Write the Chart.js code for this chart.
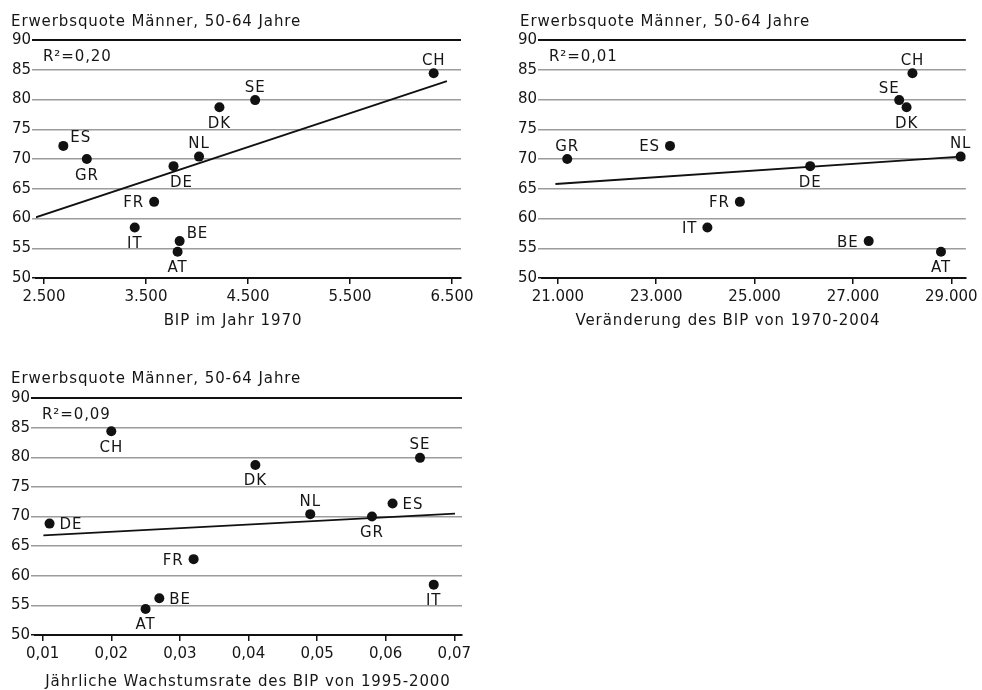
<!DOCTYPE html>
<html lang="de">
<head>
<meta charset="utf-8">
<title>Erwerbsquote Männer, 50-64 Jahre</title>
<script src="https://cdn.jsdelivr.net/npm/chart.js@4.4.1/dist/chart.umd.min.js"></script>
<style>
  html, body { margin: 0; padding: 0; background: #fff; }
  #wrap { position: relative; width: 982px; height: 690px; }
  canvas { position: absolute; }
</style>
</head>
<body>
<div id="wrap">
  <canvas id="c1" width="490" height="330" style="left:0;top:0"></canvas>
  <canvas id="c2" width="482" height="330" style="left:500px;top:0"></canvas>
  <canvas id="c3" width="490" height="350" style="left:0;top:340px"></canvas>
</div>
<script>
// Daten
const laender = ['CH', 'SE', 'DK', 'ES', 'GR', 'NL', 'DE', 'FR', 'IT', 'BE', 'AT'];
const erwerbsquote = [84.4, 79.9, 78.7, 72.2, 70.0, 70.4, 68.8, 62.8, 58.5, 56.2, 54.4];

const bip1970 = [6320, 4570, 4220, 2690, 2920, 4020, 3770, 3580, 3390, 3830, 3810];
const bipVeraenderung = [28210, 27940, 28090, 23280, 21190, 29190, 26130, 24700, 24040, 27320, 28790];
const bipWachstum = [0.020, 0.065, 0.041, 0.061, 0.058, 0.049, 0.011, 0.032, 0.067, 0.027, 0.025];

// Regressionsgeraden: Endpunkte
const trend1X = [2420, 6450], trend1Y = [60.2, 83.1];
const trend2X = [20950, 29190], trend2Y = [65.8, 70.4];
const trend3X = [0.0101, 0.0701], trend3Y = [66.8, 70.5];

// Achsen
const xBereich1 = [2422, 6588];
const xBereich2 = [20677, 29296];
const xBereich3 = [0.00888, 0.07112];
const xTicks1 = [2500, 3500, 4500, 5500, 6500];
const xTicks2 = [21000, 23000, 25000, 27000, 29000];
const xTicks3 = [0.01, 0.02, 0.03, 0.04, 0.05, 0.06, 0.07];
const yTicks = [50, 55, 60, 65, 70, 75, 80, 85, 90];

const rQuadrat = ['0,20', '0,01', '0,09'];
const yTitel = 'Erwerbsquote Männer, 50-64 Jahre';
const xTitel = ['BIP im Jahr 1970', 'Veränderung des BIP von 1970-2004', 'Jährliche Wachstumsrate des BIP von 1995-2000'];

// Darstellung
const SCHRIFT = "'DejaVu Sans', sans-serif";
const TEXTFARBE = '#161616';
const SCHWARZ = '#111';

// Lage der Länderkürzel relativ zum Punkt: [dx, dy, align]
const LAGE = {
    n:  [0, -14, 'center'],
    s:  [0, 15, 'center'],
    e:  [10, 0, 'left'],
    w:  [-10, 0, 'right'],
    ne: [7, -9, 'left'],
    se: [8, 15, 'center'],
    nw: [-10, -13, 'center']
};
const lage1 = ['n', 'n', 's', 'ne', 's', 'n', 'se', 'w', 's', 'ne', 's'];
const lage2 = ['n', 'nw', 's', 'w', 'n', 'n', 's', 'w', 'w', 'w', 's'];
const lage3 = ['s', 'n', 's', 'e', 's', 'n', 'e', 'w', 's', 'e', 's'];

function schreibe(ctx, txt, x, y, align) {
    ctx.save();
    ctx.font = '15px ' + SCHRIFT;
    ctx.letterSpacing = '0.9px';
    ctx.fillStyle = TEXTFARBE;
    ctx.textAlign = align || 'left';
    ctx.textBaseline = 'alphabetic';
    ctx.fillText(txt, x, y + 5.5); // y = Mitte der Großbuchstaben
    ctx.restore();
}

function beschriftung(nr, lage, lay) {
    return {
        id: 'beschriftung' + nr,
        afterDraw(chart) {
            const ctx = chart.ctx;
            const area = chart.chartArea;
            const meta = chart.getDatasetMeta(0);

            schreibe(ctx, yTitel, lay.titel[0], lay.titel[1]);
            schreibe(ctx, 'R²=' + rQuadrat[nr], area.left + 7, area.top + 15);
            schreibe(ctx, xTitel[nr], lay.xTitel[0], lay.xTitel[1], 'center');

            meta.data.forEach((pt, i) => {
                const o = LAGE[lage[i]];
                schreibe(ctx, laender[i], pt.x + o[0], pt.y + o[1], o[2]);
            });
        }
    };
}

function zeichne(id, nr, xWerte, trendX, trendY, xBereich, xTicks, format, lage, lay) {
    const tickFont = { family: SCHRIFT, size: 15 };
    return new Chart(document.getElementById(id), {
        type: 'scatter',
        data: {
            datasets: [{
                data: xWerte.map((x, i) => ({ x: x, y: erwerbsquote[i] })),
                backgroundColor: SCHWARZ,
                borderWidth: 0,
                pointRadius: 5,
                pointHoverRadius: 5
            }, {
                data: trendX.map((x, i) => ({ x: x, y: trendY[i] })),
                showLine: true,
                borderColor: SCHWARZ,
                borderWidth: 1.8,
                pointRadius: 0,
                fill: false
            }]
        },
        options: {
            responsive: false,
            animation: false,
            devicePixelRatio: 1,
            events: [],
            layout: { padding: lay.padding },
            plugins: { legend: { display: false }, tooltip: { enabled: false } },
            scales: {
                x: {
                    type: 'linear',
                    min: xBereich[0],
                    max: xBereich[1],
                    afterBuildTicks: s => { s.ticks = xTicks.map(v => ({ value: v })); },
                    afterFit: s => { s.height = lay.xHoehe; },
                    ticks: { font: tickFont, color: TEXTFARBE, padding: 4, maxRotation: 0, autoSkip: false, callback: format },
                    grid: { drawOnChartArea: false, drawTicks: true, tickLength: 6, color: SCHWARZ, lineWidth: 1.5 },
                    border: { display: true, color: SCHWARZ, width: 2 }
                },
                y: {
                    min: 50,
                    max: 90,
                    afterBuildTicks: s => { s.ticks = yTicks.map(v => ({ value: v })); },
                    afterFit: s => { s.width = lay.yBreite; },
                    ticks: { font: tickFont, color: TEXTFARBE, padding: 1 },
                    grid: {
                        color: c => (c.tick && (c.tick.value === 90 || c.tick.value === 50)) ? SCHWARZ : '#9c9c9c',
                        lineWidth: c => (c.tick && c.tick.value === 90) ? 2 : 1.5,
                        tickLength: 4
                    },
                    border: { display: false }
                }
            }
        },
        plugins: [beschriftung(nr, lage, lay)]
    });
}

const deZahl = v => v.toLocaleString('de-DE');
const deDezimal = v => v.toFixed(2).replace('.', ',');

zeichne('c1', 0, bip1970, trend1X, trend1Y, xBereich1, xTicks1, deZahl, lage1, {
    padding: { left: 0, top: 40, right: 29, bottom: 0 }, yBreite: 36, xHoehe: 52,
    titel: [11, 20], xTitel: [233, 319]
});
zeichne('c2', 1, bipVeraenderung, trend2X, trend2Y, xBereich2, xTicks2, deZahl, lage2, {
    padding: { left: 6, top: 40, right: 13, bottom: 0 }, yBreite: 36, xHoehe: 52,
    titel: [20, 20], xTitel: [228, 319]
});
zeichne('c3', 2, bipWachstum, trend3X, trend3Y, xBereich3, xTicks3, deDezimal, lage3, {
    padding: { left: 0, top: 58, right: 28, bottom: 0 }, yBreite: 35, xHoehe: 55,
    titel: [11, 37], xTitel: [248, 340]
});
</script>
</body>
</html>
